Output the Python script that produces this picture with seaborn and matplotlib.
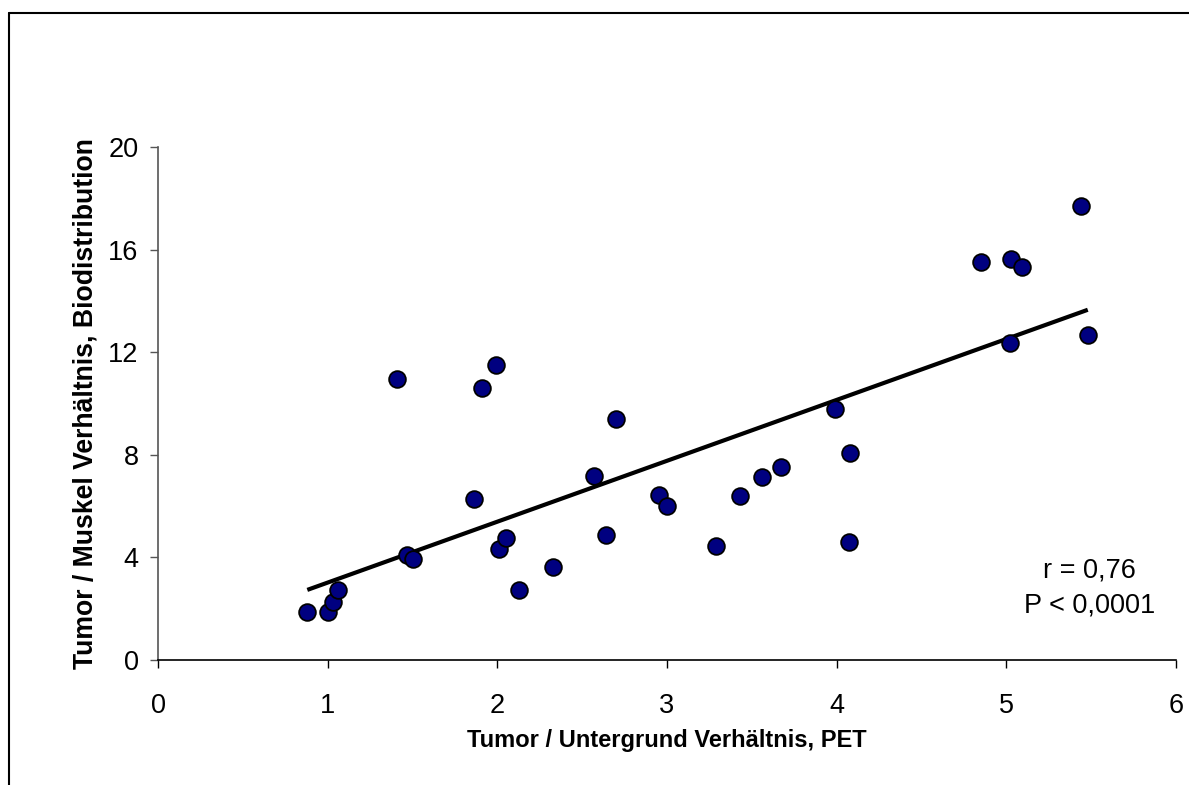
import matplotlib
matplotlib.use("Agg")
import matplotlib.pyplot as plt
import numpy as np
import pandas as pd
import seaborn as sns
from matplotlib.lines import Line2D

# Tumor / background ratio (PET) vs tumor / muscle ratio (biodistribution)
pet_ratio = [0.88, 1.00, 1.03, 1.06, 1.41, 1.47, 1.50, 1.86, 1.91, 1.99,
             2.01, 2.05, 2.13, 2.33, 2.57, 2.64, 2.70, 2.95, 3.00, 3.29,
             3.43, 3.56, 3.67, 3.99, 4.08, 4.07, 4.85, 5.03, 5.09, 5.02,
             5.44, 5.48]
bio_ratio = [1.88, 1.88, 2.27, 2.73, 10.96, 4.09, 3.94, 6.28, 10.62, 11.50,
             4.33, 4.74, 2.73, 3.64, 7.17, 4.86, 9.40, 6.45, 6.00, 4.46,
             6.38, 7.13, 7.51, 9.77, 8.06, 4.60, 15.52, 15.63, 15.32, 12.35,
             17.69, 12.67]
x_ticks = [0, 1, 2, 3, 4, 5, 6]
y_ticks = [0, 4, 8, 12, 16, 20]
x_label = "Tumor / Untergrund Verhältnis, PET"
y_label = "Tumor / Muskel Verhältnis, Biodistribution"
stats_text = "r = 0,76\nP < 0,0001"

df = pd.DataFrame({"pet": pet_ratio, "bio": bio_ratio})

sns.set_style("white")
plt.rcParams['font.family'] = ['Liberation Sans', 'DejaVu Sans']
plt.rcParams['text.color'] = 'black'
plt.rcParams['axes.labelcolor'] = 'black'

fig = plt.figure(figsize=(11.89, 7.85), dpi=100)
ax = fig.add_axes([158 / 1189, 1 - 660 / 785, 1018 / 1189, 513 / 785])

sns.regplot(data=df, x="pet", y="bio", ax=ax, ci=None, scatter=False,
            line_kws={"color": "black", "lw": 3, "solid_capstyle": "butt"})
sns.scatterplot(data=df, x="pet", y="bio", ax=ax, s=145, color="#000080",
                edgecolor="black", linewidth=1.3, zorder=3)

ax.set_xlim(0, 6)
ax.set_ylim(0, 20)
ax.set_xticks(x_ticks)
ax.set_yticks(y_ticks)
ax.tick_params(axis="both", direction="out", length=6, width=1, labelsize=19.5,
               colors="black", bottom=True, left=True)
ax.tick_params(axis="x", pad=18)
ax.tick_params(axis="y", pad=8, color="#555555")
for s in ["top", "right"]:
    ax.spines[s].set_visible(False)
ax.spines["bottom"].set_color("black")
ax.spines["left"].set_color("#555555")
ax.spines["bottom"].set_linewidth(1.2)
ax.spines["left"].set_linewidth(1.2)

ax.set_xlabel(x_label, fontsize=17, fontweight="bold", color="black")
ax.set_ylabel(y_label, fontsize=19.2, fontweight="bold", color="black")
ax.xaxis.set_label_coords(0.5, -0.135)
ax.yaxis.set_label_coords(-0.058, 0.5)

ax.text(0.915, 0.14, stats_text, transform=ax.transAxes, fontsize=19.5,
        ha="center", va="center", multialignment="center", linespacing=1.45,
        color="black")

# outer chart frame (cropped on right and bottom)
fig.add_artist(Line2D([9 / 1189, 9 / 1189], [0, 1 - 13 / 785], color="black",
                      lw=1.5, transform=fig.transFigure))
fig.add_artist(Line2D([9 / 1189, 1], [1 - 13 / 785, 1 - 13 / 785], color="black",
                      lw=1.5, transform=fig.transFigure))

fig.savefig("out.png", dpi=100)
